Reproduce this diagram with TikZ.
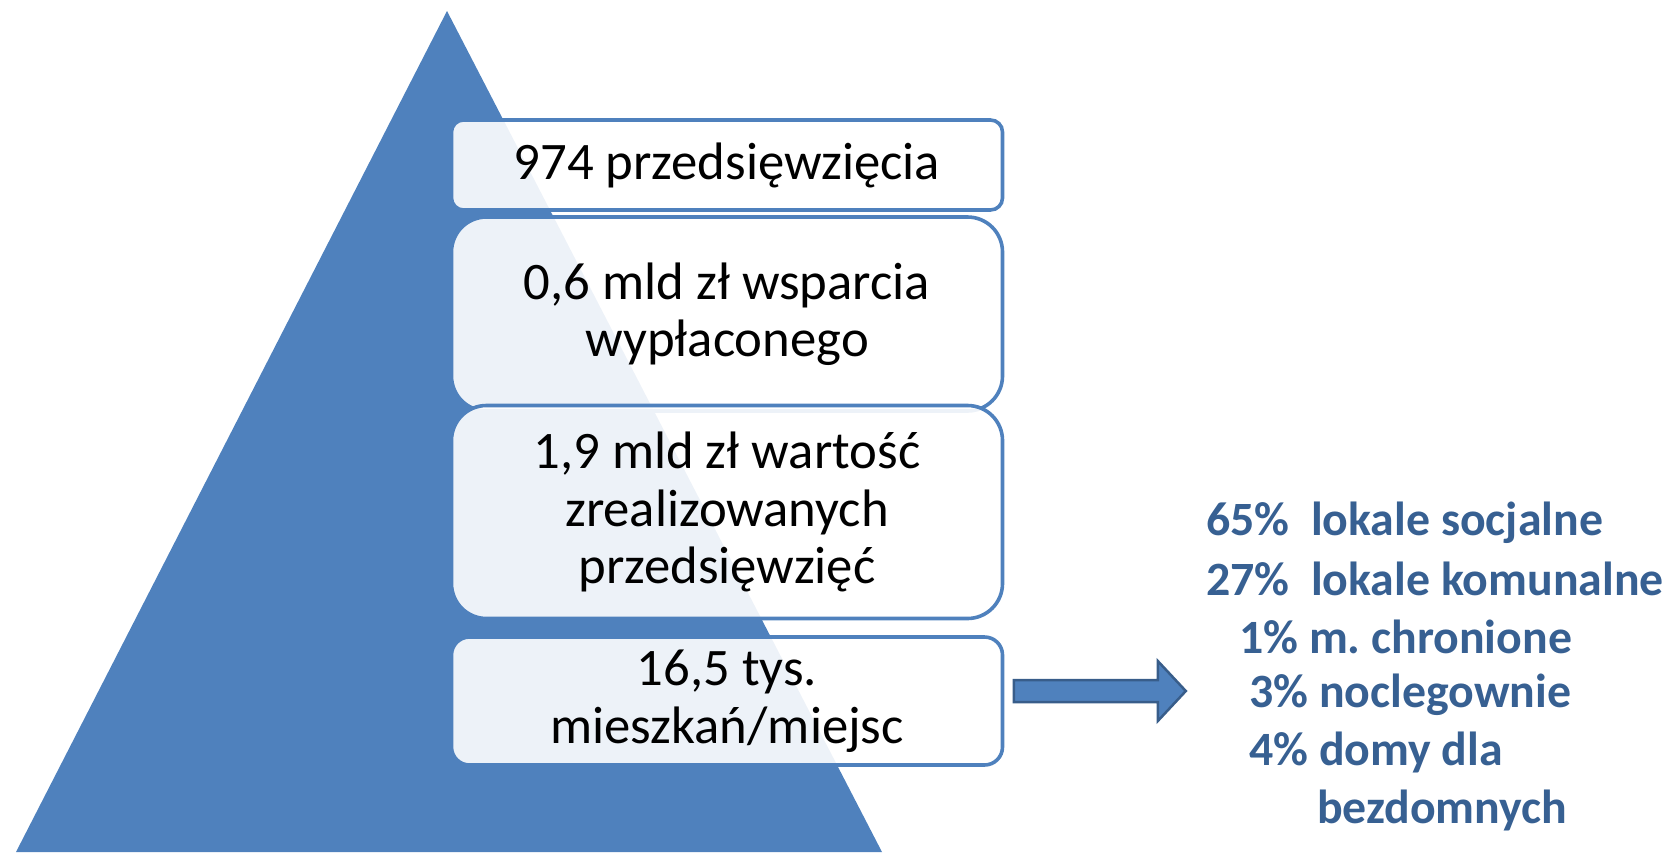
\documentclass[tikz,border=0pt]{standalone}
\usepackage{fontspec}
\setmainfont{Carlito}
\usetikzlibrary{positioning}
\definecolor{niebieski}{HTML}{4F81BD}
\definecolor{ciemny}{HTML}{385D8A}
\definecolor{napis}{HTML}{376092}
\frenchspacing

\begin{document}
\begin{tikzpicture}[x=1pt,y=-1pt,
	blok/.style={draw=niebieski, line width=3.6pt, fill=white, fill opacity=.9, text opacity=1, minimum width=551pt, align=center, inner sep=0pt, font=\fontsize{52.7}{57.5}\selectfont},
	lista/.style={anchor=west, inner sep=0pt, text=napis, font=\fontsize{47.8}{57.5}\selectfont\bfseries}]
			\useasboundingbox (0,0) rectangle (1670,852);
			\fill[niebieski] (447,11) -- (882,852) -- (16,852) -- cycle;
			\node[blok, rounded corners=12pt, minimum height=90pt] (b1) at (727,165) {974 przedsięwzięcia};
			\node[blok, rounded corners=35pt, minimum height=194pt] (b2) at (727,314) {0,6 mld zł wsparcia\\wypłaconego};
			\node[blok, rounded corners=35pt, minimum height=213pt] (b3) at (727,512) {1,9 mld zł wartość\\zrealizowanych\\przedsięwzięć};
			\node[blok, rounded corners=18pt, minimum height=128pt] (b4) at (727,701) {16,5 tys.\\mieszkań/miejsc};
			\coordinate (ogon) at ([xshift=9.5pt,yshift=10pt]b4.east);
			\draw[fill=niebieski, draw=ciemny, line width=2.5pt] (ogon) ++(0,-11) -- ++(144,0) -- ++(0,-19) -- ++(28,30) -- ++(-28,30) -- ++(0,-19) -- ++(-144,0) -- cycle;
			\node[lista] (r1) at (1206,523) {65\%\ \ lokale socjalne};
			\node[lista] (r2) at (1206,579) {27\%\ \ lokale komunalne};
			\node[lista] (r3) at (1239,637) {1\% m. chronione};
			\node[lista] (r4) at (1249,695) {3\% noclegownie};
			\node[lista] (r5) at (1249,752) {4\% domy dla};
			\node[lista] (r6) at (1317,810) {bezdomnych};
			\end{tikzpicture}
\end{document}
